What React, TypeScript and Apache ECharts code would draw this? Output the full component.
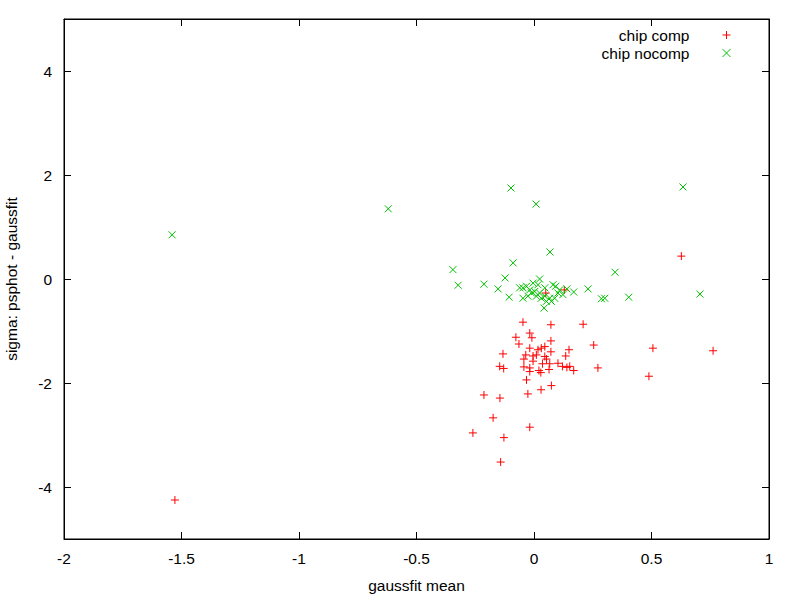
import React, { useEffect, useRef } from "react";
import * as echarts from "echarts";

const xTicks = [-2, -1.5, -1, -0.5, 0, 0.5, 1];
const yTicks = [-4, -2, 0, 2, 4];

const seriesNames = ["chip comp", "chip nocomp"];

// chip comp: [gaussfit mean, sigma]
const compData: number[][] = [
  [-0.047, -0.83], [0.072, -0.88], [0.209, -0.87], [-0.018, -1.04], [-0.009, -1.13],
  [-0.077, -1.12], [-0.064, -1.25], [0.072, -1.19], [0.254, -1.27], [-0.018, -1.33],
  [0.017, -1.36], [0.031, -1.33], [0.046, -1.3], [-0.132, -1.44], [0.072, -1.4],
  [0.149, -1.36], [-0.035, -1.46], [-0.004, -1.48], [0.01, -1.46], [0.046, -1.49],
  [0.053, -1.54], [0.135, -1.48], [-0.043, -1.54], [-0.004, -1.58], [0.036, -1.63],
  [0.067, -1.63], [0.102, -1.62], [-0.146, -1.68], [-0.129, -1.72], [-0.043, -1.69],
  [-0.018, -1.71], [-0.018, -1.78], [0.021, -1.76], [0.029, -1.8], [0.064, -1.74],
  [0.121, -1.68], [0.14, -1.7], [0.152, -1.68], [0.169, -1.76], [0.272, -1.71],
  [-0.032, -1.94], [0.074, -2.05], [0.03, -2.13], [-0.026, -2.21], [-0.213, -2.23],
  [-0.145, -2.29], [-0.174, -2.67], [-0.018, -2.85], [-0.26, -2.96], [-0.128, -3.05],
  [-0.142, -3.52], [0.627, 0.44], [0.506, -1.33], [0.762, -1.38], [0.489, -1.87],
  [-1.528, -4.25], [0.05, -0.27], [0.129, -0.21],
];

// chip nocomp: [gaussfit mean, sigma]
const nocompData: number[][] = [
  [-1.54, 0.85], [-0.62, 1.35], [-0.098, 1.75], [0.009, 1.44], [0.068, 0.52],
  [-0.089, 0.31], [-0.345, 0.18], [0.345, 0.13], [-0.323, -0.12], [-0.213, -0.1],
  [-0.123, 0.02], [-0.153, -0.19], [-0.106, -0.35], [0.024, 0.0], [0.23, -0.19],
  [0.287, -0.38], [0.301, -0.37], [0.403, -0.35], [0.043, -0.56], [0.634, 1.77],
  [0.706, -0.29], [0.169, -0.25], [0.14, -0.19], [0.092, -0.14],
  [-0.061, -0.17], [-0.047, -0.17], [-0.032, -0.14], [-0.018, -0.21], [-0.004, -0.08],
  [0.003, -0.24], [0.01, -0.33], [0.024, -0.27], [0.031, -0.37], [0.046, -0.33],
  [0.053, -0.43], [0.067, -0.37], [0.074, -0.43], [0.088, -0.37], [0.102, -0.27],
  [-0.026, -0.33], [-0.047, -0.37], [0.017, -0.11], [0.046, -0.17], [0.109, -0.21],
  [0.123, -0.3], [-0.011, -0.27], [0.081, -0.11],
];

const FONT = "'Liberation Sans', Arial, sans-serif";
const FS = 15.5;
const PLUS = "path://M0,5L10,5M5,0L5,10";
const CROSS = "path://M0,0L10,10M10,0L0,10";

export default function App() {
  const ref = useRef<HTMLDivElement>(null);
  useEffect(() => {
    document.body.style.margin = "0";
    const chart = echarts.init(ref.current!, null, { renderer: "svg" });
    const axisCommon = {
      type: "value" as const,
      axisLine: { show: true, onZero: false, lineStyle: { color: "#000", width: 1 } },
      splitLine: { show: false },
    };
    const legendCommon = {
      right: 69, orient: "vertical" as const, align: "right" as const,
      itemWidth: 8, itemHeight: 8, padding: 0,
      itemStyle: { borderWidth: 1, color: "rgba(0,0,0,0)" },
      textStyle: { fontFamily: FONT, fontSize: FS, color: "#000", padding: [0, 28, 0, 0], lineHeight: 18 },
    };
    chart.setOption({
      animation: false,
      backgroundColor: "#fff",
      textStyle: { fontFamily: FONT },
      grid: {
        left: 64, right: 31, top: 19, bottom: 61,
        show: true, borderColor: "#000", borderWidth: 1,
        outerBoundsMode: "none",
      },
      legend: [
        { ...legendCommon, data: [seriesNames[0]], top: 26 },
        { ...legendCommon, data: [seriesNames[1]], top: 44 },
      ],
      xAxis: [
        {
          ...axisCommon, position: "bottom", min: -2, max: 1,
          name: "gaussfit mean", nameLocation: "middle", nameGap: 38,
          nameTextStyle: { fontFamily: FONT, fontSize: FS, color: "#000" },
          axisTick: { show: true, inside: true, length: 7, customValues: xTicks, lineStyle: { color: "#000" } },
          axisLabel: { show: true, margin: 11, customValues: xTicks, fontFamily: FONT, fontSize: FS, color: "#000",
            formatter: (v: number) => String(v) },
        },
        {
          ...axisCommon, position: "top", min: -2, max: 1,
          axisTick: { show: true, inside: true, length: 7, customValues: xTicks, lineStyle: { color: "#000" } },
          axisLabel: { show: false },
        },
      ],
      yAxis: [
        {
          ...axisCommon, position: "left", min: -5, max: 5,
          name: "sigma: psphot - gaussfit", nameLocation: "middle", nameGap: 45, nameRotate: 90,
          nameTextStyle: { fontFamily: FONT, fontSize: FS, color: "#000" },
          axisTick: { show: true, inside: true, length: 7, customValues: yTicks, lineStyle: { color: "#000" } },
          axisLabel: { show: true, margin: 12, customValues: yTicks, fontFamily: FONT, fontSize: FS, color: "#000",
            formatter: (v: number) => String(v) },
        },
        {
          ...axisCommon, position: "right", min: -5, max: 5,
          axisTick: { show: true, inside: true, length: 7, customValues: yTicks, lineStyle: { color: "#000" } },
          axisLabel: { show: false },
        },
      ],
      series: [
        {
          name: seriesNames[0], type: "scatter", xAxisIndex: 0, yAxisIndex: 0,
          data: compData, symbol: PLUS, symbolSize: 8,
          itemStyle: { color: "rgba(0,0,0,0)", borderColor: "#ff0000", borderWidth: 1, opacity: 1 },
          emphasis: { disabled: true },
        },
        {
          name: seriesNames[1], type: "scatter", xAxisIndex: 0, yAxisIndex: 0,
          data: nocompData, symbol: CROSS, symbolSize: 7,
          itemStyle: { color: "rgba(0,0,0,0)", borderColor: "#00c000", borderWidth: 1, opacity: 1 },
          emphasis: { disabled: true },
        },
      ],
    });
    return () => chart.dispose();
  }, []);
  return <div ref={ref} style={{ width: 800, height: 600 }} />;
}
